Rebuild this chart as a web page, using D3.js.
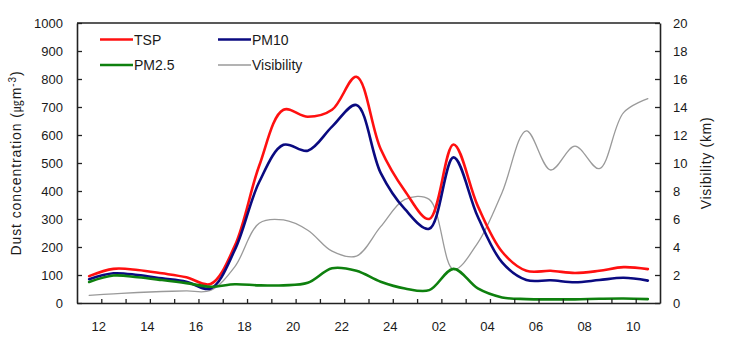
<!DOCTYPE html>
<html>
<head>
<meta charset="utf-8">
<script src="https://cdn.jsdelivr.net/npm/d3@7/dist/d3.min.js"></script>
<style>
  body { margin: 0; background: #fff; }
  text { font-family: Arial, "Liberation Sans", "Noto Sans CJK KR", sans-serif; fill: #1a1a1a; }
</style>
</head>
<body>
<svg id="chart" width="729" height="347"></svg>
<script>
// Hourly averages (plotted at the middle of each hour), 12h day 1 through 10h day 2
const hours = [11.5, 12.5, 13.5, 14.5, 15.5, 16.5, 17.5, 18.5, 19.5, 20.5, 21.5, 22.5,
               23.5, 24.5, 25.5, 26.5, 27.5, 28.5, 29.5, 30.5, 31.5, 32.5, 33.5, 34.5];
const tsp  = [96, 122, 118, 106, 92, 68, 205, 490, 690, 665, 690, 808,
              550, 400, 300, 566, 346, 183, 115, 115, 107, 115, 128, 121];
const pm10 = [85, 106, 100, 88, 76, 52, 190, 432, 565, 544, 630, 707,
              465, 335, 265, 520, 308, 145, 82, 81, 74, 82, 90, 80];
const pm25 = [75, 98, 92, 82, 71, 58, 67, 63, 63, 72, 124, 115,
              76, 52, 46, 122, 52, 20, 14, 13, 13, 15, 16, 14];
const visibility = [0.55, 0.65, 0.75, 0.82, 0.86, 0.9, 2.6, 5.7, 5.93, 5.2, 3.7, 3.35,
                    5.45, 7.4, 7.4, 2.4, 4.3, 7.9, 12.3, 9.5, 11.2, 9.6, 13.6, 14.6];

// Axis ticks and labels
const hourTicks = [12, 13, 14, 15, 16, 17, 18, 19, 20, 21, 22, 23,
                   24, 25, 26, 27, 28, 29, 30, 31, 32, 33, 34];
const hourLabels = {12: "12", 14: "14", 16: "16", 18: "18", 20: "20", 22: "22",
                    24: "24", 26: "02", 28: "04", 30: "06", 32: "08", 34: "10"};
const dustTicks = [0, 100, 200, 300, 400, 500, 600, 700, 800, 900, 1000];
const visTicks = [0, 2, 4, 6, 8, 10, 12, 14, 16, 18, 20];

const svg = d3.select("#chart");
const plotL = 77, plotR = 660, plotT = 23, plotB = 303;

const x = d3.scaleLinear().domain([11, 35]).range([plotL, plotR]);
const y = d3.scaleLinear().domain([0, 1000]).range([plotB, plotT]);
const y2 = d3.scaleLinear().domain([0, 20]).range([plotB, plotT]);

const axisColor = "#222";

// Series lines
const curve = d3.curveCatmullRom.alpha(0.5);
const lineDust = d3.line().x((d, i) => x(hours[i])).y(d => y(d)).curve(curve);
const lineVis = d3.line().x((d, i) => x(hours[i])).y(d => y2(d)).curve(curve);

const series = [
  { name: "Visibility", data: visibility, color: "#9a9a9a", width: 1.3, gen: lineVis },
  { name: "TSP", data: tsp, color: "#ff1010", width: 2.6, gen: lineDust },
  { name: "PM10", data: pm10, color: "#0a0a80", width: 2.6, gen: lineDust },
  { name: "PM2.5", data: pm25, color: "#0e800e", width: 2.6, gen: lineDust }
];

svg.append("g").selectAll("path").data(series).join("path")
  .attr("d", s => s.gen(s.data))
  .attr("fill", "none")
  .attr("stroke", s => s.color)
  .attr("stroke-width", s => s.width)
  .attr("stroke-linejoin", "round")
  .attr("stroke-linecap", "round");

// Axes
const gLeft = svg.append("g").attr("transform", `translate(${plotL},0)`)
  .call(d3.axisLeft(y).tickValues(dustTicks).tickFormat(d3.format("d"))
    .tickSize(-5).tickSizeOuter(0).tickPadding(14));
const gRight = svg.append("g").attr("transform", `translate(${plotR},0)`)
  .call(d3.axisRight(y2).tickValues(visTicks).tickFormat(d3.format("d"))
    .tickSize(-5).tickSizeOuter(0).tickPadding(13));
const gBottom = svg.append("g").attr("transform", `translate(0,${plotB})`)
  .call(d3.axisBottom(x).tickValues(hourTicks).tickSize(-4).tickSizeOuter(0).tickPadding(19)
    .tickFormat(d => hourLabels[d] || ""));
gBottom.selectAll("text").attr("dx", -3);

[gLeft, gRight, gBottom].forEach(g => {
  g.selectAll("path.domain").attr("stroke", axisColor).attr("stroke-width", 1.6);
  g.selectAll(".tick line").attr("stroke", axisColor).attr("stroke-width", 1.3);
  g.selectAll("text").attr("font-size", 13).attr("fill", "#1a1a1a")
    .attr("font-family", "Arial, 'Liberation Sans', sans-serif");
});

// Top frame line
svg.append("line")
  .attr("x1", plotL).attr("x2", plotR).attr("y1", plotT).attr("y2", plotT)
  .attr("stroke", axisColor).attr("stroke-width", 1.3);

// Axis titles
const yTitle = svg.append("text")
  .attr("transform", `translate(21,${(plotT + plotB) / 2}) rotate(-90)`)
  .attr("text-anchor", "middle")
  .attr("font-size", 14)
  .attr("letter-spacing", 0.9);
yTitle.append("tspan").text("Dust concentration  (");
yTitle.append("tspan").attr("font-family", "'Noto Sans CJK KR', sans-serif").attr("font-size", 12).text("㎍");
yTitle.append("tspan").text("m");
yTitle.append("tspan").attr("dy", -5).attr("font-size", 10).text("-3");
yTitle.append("tspan").attr("dy", 5).text(")");

svg.append("text")
  .attr("transform", `translate(711,${(plotT + plotB) / 2}) rotate(-90)`)
  .attr("text-anchor", "middle")
  .attr("font-size", 14)
  .attr("letter-spacing", 0.7)
  .text("Visibility (km)");

// Legend
const legend = [
  { name: "TSP", color: "#ff1010", width: 2.6, lx: 100, ly: 39.5 },
  { name: "PM10", color: "#0a0a80", width: 2.6, lx: 218, ly: 39.5 },
  { name: "PM2.5", color: "#0e800e", width: 2.6, lx: 100, ly: 65 },
  { name: "Visibility", color: "#9a9a9a", width: 1.3, lx: 218, ly: 65 }
];
const lg = svg.append("g").selectAll("g").data(legend).join("g")
  .attr("transform", d => `translate(${d.lx},${d.ly})`);
lg.append("line").attr("x1", 0).attr("x2", 33).attr("y1", 0).attr("y2", 0)
  .attr("stroke", d => d.color).attr("stroke-width", d => d.width);
lg.append("text").attr("x", 34).attr("y", 5).attr("font-size", 14)
  .text(d => d.name);
</script>
</body>
</html>
